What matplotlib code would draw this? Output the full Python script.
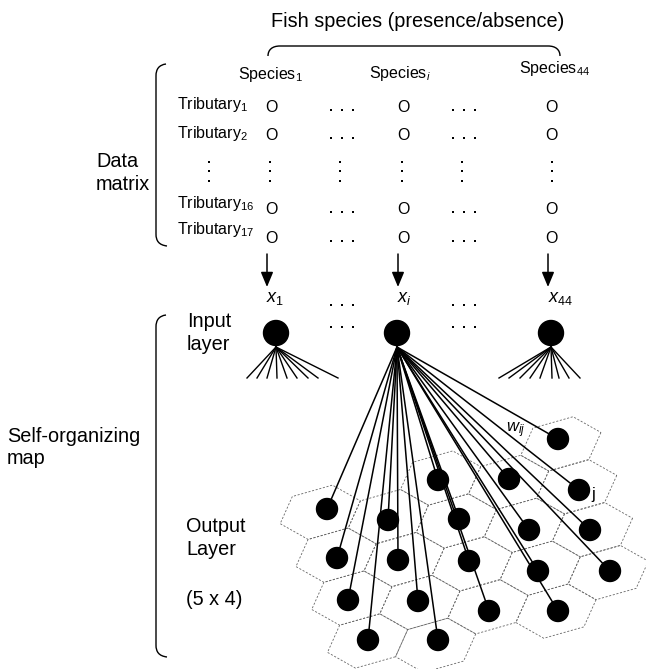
"""
Schematic of the data matrix feeding a self-organizing map (SOM).
"""

import numpy as np
import matplotlib
matplotlib.use("Agg")
import matplotlib.pyplot as plt
from matplotlib.patches import Circle, PathPatch, Polygon
from matplotlib.path import Path

plt.rcParams['font.family'] = 'Liberation Sans'
plt.rcParams['mathtext.fontset'] = 'custom'
plt.rcParams['mathtext.rm'] = 'Liberation Sans'
plt.rcParams['mathtext.it'] = 'Liberation Sans:italic'
plt.rcParams['mathtext.bf'] = 'Liberation Sans:bold'

# ---- data matrix (pixel coordinates) ----
species_labels = ['Species$_1$', 'Species$_i$', 'Species$_{44}$']
species_x = [270, 400, 555]
species_base = [79, 78, 73]

tributary_labels = ['Tributary$_1$', 'Tributary$_2$', 'Tributary$_{16}$', 'Tributary$_{17}$']
tributary_base = [109, 138, 208, 234]
cell_base = [112, 140, 214, 243]
column_x = [271, 403, 551]
ellipsis_x = [342, 464]
ellipsis_y = [110, 138, 212, 241]
colon_x = [209, 270, 340, 402, 462, 552]
colon_y = [162, 171, 181]

arrow_x = [267, 398, 548]
input_labels = ['$x_1$', '$x_i$', '$x_{44}$']
input_label_x = [266, 397, 548]
input_ellipsis_y = [305, 327]

# ---- input layer ----
input_x = [276, 397, 551]
input_y = 333
fan_first = [247, 257, 267, 277, 287, 297, 308, 318, 338]
fan_last = [499, 509, 520, 530, 540, 552, 559, 569, 580]

# ---- output layer: 5 x 4 nodes (column-major) ----
som_x = [327, 337, 348, 368, 388, 398, 418, 438, 438, 459,
         469, 489, 509, 529, 538, 558, 558, 579, 590, 610]
som_y = [509, 558, 600, 640, 520, 560, 601, 640, 480, 519,
         561, 611, 479, 530, 571, 611, 439, 490, 530, 571]
n_cols, n_rows = 5, 4

fig = plt.figure(figsize=(6.46, 6.69), dpi=100)
ax = fig.add_axes([0, 0, 1, 1])
ax.set_xlim(0, 646)
ax.set_ylim(669, 0)
ax.axis('off')

big = 14.3
small = 11.5


def vbrace(top, bottom, x=156):
    verts = [(166, top), (159, top + 1), (x, top + 5), (x, top + 12),
             (x, bottom - 12), (x, bottom - 5), (159, bottom - 1), (167, bottom)]
    codes = [Path.MOVETO, Path.CURVE4, Path.CURVE4, Path.CURVE4,
             Path.LINETO, Path.CURVE4, Path.CURVE4, Path.CURVE4]
    ax.add_patch(PathPatch(Path(verts, codes), fill=False, lw=1.0, ec='black'))


def ellipsis(xc, y):
    ax.plot([xc - 11, xc, xc + 11], [y] * 3, 's', ms=1.6, mew=0, color='black')


# title and top brace
ax.text(418, 27, 'Fish species (presence/absence)', fontsize=big,
        ha='center', va='baseline')
top_verts = [(268, 56), (268, 50), (272, 46), (280, 46),
             (548, 46), (556, 46), (560, 50), (560, 56)]
top_codes = [Path.MOVETO, Path.CURVE4, Path.CURVE4, Path.CURVE4,
             Path.LINETO, Path.CURVE4, Path.CURVE4, Path.CURVE4]
ax.add_patch(PathPatch(Path(top_verts, top_codes), fill=False, lw=1.0, ec='black'))

for lab, x, yb in zip(species_labels, species_x, species_base):
    ax.text(x, yb, lab, fontsize=small, ha='center', va='baseline')

# rows of the data matrix
for lab, tb, cb, ey in zip(tributary_labels, tributary_base, cell_base, ellipsis_y):
    ax.text(177, tb, lab, fontsize=small, ha='left', va='baseline')
    for cx in column_x:
        ax.text(cx, cb, 'O', fontsize=small, ha='center', va='baseline')
    for ex in ellipsis_x:
        ellipsis(ex, ey)

for cx in colon_x:
    ax.plot([cx] * 3, colon_y, 's', ms=1.6, mew=0, color='black')

vbrace(64, 246)
ax.text(96, 167, 'Data', fontsize=big, ha='left', va='baseline')
ax.text(96, 190, 'matrix', fontsize=big, ha='left', va='baseline')

# arrows to the input vector
for x in arrow_x:
    ax.annotate('', xy=(x, 287), xytext=(x, 254),
                arrowprops=dict(arrowstyle='-|>,head_length=0.6,head_width=0.25',
                                color='black', lw=1.1, mutation_scale=15,
                                shrinkA=0, shrinkB=0))
for lab, x in zip(input_labels, input_label_x):
    ax.text(x, 302, lab, fontsize=13, ha='left', va='baseline')
for y in input_ellipsis_y:
    for ex in ellipsis_x:
        ellipsis(ex, y)

# SOM brace and labels
vbrace(315, 657)
ax.text(7, 442, 'Self-organizing', fontsize=big, ha='left', va='baseline')
ax.text(7, 464, 'map', fontsize=big, ha='left', va='baseline')
ax.text(187, 327, 'Input', fontsize=big, ha='left', va='baseline')
ax.text(187, 350, 'layer', fontsize=big, ha='left', va='baseline')
ax.text(186, 532, 'Output', fontsize=big, ha='left', va='baseline')
ax.text(186, 555, 'Layer', fontsize=big, ha='left', va='baseline')
ax.text(186, 605, '(5 x 4)', fontsize=big, ha='left', va='baseline')

# hexagonal lattice fitted to the node positions
cols = np.repeat(np.arange(n_cols), n_rows)
rows = np.tile(np.arange(n_rows), n_cols)
design = np.column_stack([np.ones(cols.size), cols, rows + 0.5 * (cols % 2)])
coef_x = np.linalg.lstsq(design, np.array(som_x, float), rcond=None)[0]
coef_y = np.linalg.lstsq(design, np.array(som_y, float), rcond=None)[0]
U = np.array([coef_x[1], coef_y[1]])
V = np.array([coef_x[2], coef_y[2]])
centers = np.column_stack([design @ coef_x, design @ coef_y])
theta = np.deg2rad(np.arange(0, 360, 60))
hex_off = np.outer(np.cos(theta) / 1.5, U) + np.outer(np.sin(theta) / np.sqrt(3), V)
for c in centers:
    ax.add_patch(Polygon(c + hex_off, closed=True, fill=False, lw=0.6,
                         ec='#666666', ls=(0, (2.5, 2)), zorder=1))

# connections
apex_y = 347
for x, off in zip([input_x[0], input_x[2]], [fan_first, fan_last]):
    for ex in off:
        ax.plot([x, ex], [apex_y, 378], color='black', lw=1.0, zorder=2)
for nx, ny in zip(som_x, som_y):
    ax.plot([input_x[1], nx], [apex_y, ny], color='black', lw=1.1, zorder=2)

# nodes
for x in input_x:
    ax.add_patch(Circle((x, input_y), 12.5, color='black', zorder=3))
for nx, ny in zip(som_x, som_y):
    ax.add_patch(Circle((nx, ny), 10.5, color='black', zorder=3))

ax.text(506, 432, '$w_{ij}$', fontsize=12, ha='left', va='baseline')
ax.text(591, 499, 'j', fontsize=12, ha='left', va='baseline')

fig.savefig('out.png', dpi=100)
